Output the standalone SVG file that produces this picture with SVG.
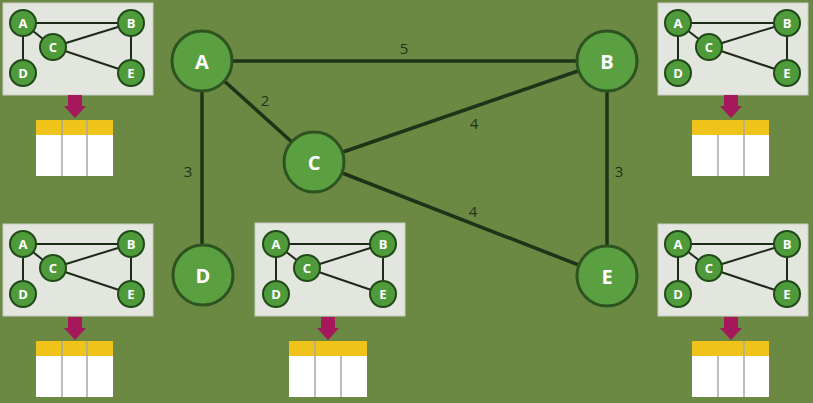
<svg xmlns="http://www.w3.org/2000/svg" width="813" height="403" viewBox="0 0 813 403">
<style>
.edge{stroke:#1e3317;stroke-width:3.5;fill:none}
.node{fill:#5a9f40;stroke:#2c5320;stroke-width:3}
.nlab{font-family:"Open Sans","Liberation Sans",sans-serif;font-weight:bold;font-size:20px;fill:#ffffff;text-anchor:middle;dominant-baseline:central}
.wlab{font-family:"Open Sans","Liberation Sans",sans-serif;font-size:15px;fill:#1e3317;text-anchor:middle;dominant-baseline:central}
.panel{fill:#e3e5df;stroke:#c9ccc3;stroke-width:1}
.medge{stroke:#1e2a18;stroke-width:2;fill:none}
.mnode{fill:#4f9a3a;stroke:#1f4a17;stroke-width:2}
.mlab{font-family:"Open Sans","Liberation Sans",sans-serif;font-weight:bold;font-size:13px;fill:#ffffff;text-anchor:middle;dominant-baseline:central}
.arrow{fill:#a5195c}
.thead{fill:#efc31a}
.tbody{fill:#ffffff}
.tline{stroke:#a8a8a0;stroke-width:1.5}
</style>
<rect x="0" y="0" width="813" height="403" fill="#6b8943"/>

<g id="connectors">
<line class="edge" x1="202" y1="61" x2="607" y2="61"/>
<line class="edge" x1="202" y1="61" x2="314" y2="162"/>
<line class="edge" x1="202" y1="61" x2="202" y2="277"/>
<line class="edge" x1="314" y1="162" x2="607" y2="61"/>
<line class="edge" x1="314" y1="162" x2="607" y2="276"/>
<line class="edge" x1="607" y1="61" x2="607" y2="276"/>
<text class="wlab" x="404" y="48">5</text>
<text class="wlab" x="265" y="100">2</text>
<text class="wlab" x="188" y="171">3</text>
<text class="wlab" x="474" y="123">4</text>
<text class="wlab" x="473" y="211">4</text>
<text class="wlab" x="619" y="171">3</text>
</g>

<g id="node-A"><circle class="node" cx="202" cy="61" r="30"/><text class="nlab" x="202" y="61">A</text></g>
<g id="node-B"><circle class="node" cx="607" cy="61" r="30"/><text class="nlab" x="607" y="61">B</text></g>
<g id="node-C"><circle class="node" cx="314" cy="162" r="30"/><text class="nlab" x="314" y="162">C</text></g>
<g id="node-D"><circle class="node" cx="203" cy="275" r="30"/><text class="nlab" x="203" y="275">D</text></g>
<g id="node-E"><circle class="node" cx="607" cy="276" r="30"/><text class="nlab" x="607" y="276">E</text></g>

<!-- mini panels -->
<g id="panel-top-left" transform="translate(3,3)">
<rect class="panel" x="0" y="0" width="150" height="92"/>
<line class="medge" x1="20" y1="20" x2="128" y2="20"/><line class="medge" x1="20" y1="20" x2="50" y2="44"/><line class="medge" x1="20" y1="20" x2="20" y2="70"/><line class="medge" x1="50" y1="44" x2="128" y2="20"/><line class="medge" x1="50" y1="44" x2="128" y2="70"/><line class="medge" x1="128" y1="20" x2="128" y2="70"/>
<circle class="mnode" cx="20" cy="20" r="13"/><text class="mlab" x="20" y="20">A</text>
<circle class="mnode" cx="128" cy="20" r="13"/><text class="mlab" x="128" y="20">B</text>
<circle class="mnode" cx="50" cy="44" r="13"/><text class="mlab" x="50" y="44">C</text>
<circle class="mnode" cx="20" cy="70" r="13"/><text class="mlab" x="20" y="70">D</text>
<circle class="mnode" cx="128" cy="70" r="13"/><text class="mlab" x="128" y="70">E</text>
</g>
<g id="table-top-left">
<path class="arrow" d="M68,95 H82 V106 H86 L75,118 L64,106 H68 Z"/>
<rect class="tbody" x="36" y="120" width="77" height="56"/>
<rect class="thead" x="36" y="120" width="77" height="15"/>
<line class="tline" x1="62" y1="120" x2="62" y2="176"/><line class="tline" x1="87" y1="120" x2="87" y2="176"/>
</g>

<g id="panel-bottom-left" transform="translate(3,224)">
<rect class="panel" x="0" y="0" width="150" height="92"/>
<line class="medge" x1="20" y1="20" x2="128" y2="20"/><line class="medge" x1="20" y1="20" x2="50" y2="44"/><line class="medge" x1="20" y1="20" x2="20" y2="70"/><line class="medge" x1="50" y1="44" x2="128" y2="20"/><line class="medge" x1="50" y1="44" x2="128" y2="70"/><line class="medge" x1="128" y1="20" x2="128" y2="70"/>
<circle class="mnode" cx="20" cy="20" r="13"/><text class="mlab" x="20" y="20">A</text>
<circle class="mnode" cx="128" cy="20" r="13"/><text class="mlab" x="128" y="20">B</text>
<circle class="mnode" cx="50" cy="44" r="13"/><text class="mlab" x="50" y="44">C</text>
<circle class="mnode" cx="20" cy="70" r="13"/><text class="mlab" x="20" y="70">D</text>
<circle class="mnode" cx="128" cy="70" r="13"/><text class="mlab" x="128" y="70">E</text>
</g>
<g id="table-bottom-left">
<path class="arrow" d="M68,317 H82 V328 H86 L75,340 L64,328 H68 Z"/>
<rect class="tbody" x="36" y="341" width="77" height="56"/>
<rect class="thead" x="36" y="341" width="77" height="15"/>
<line class="tline" x1="62" y1="341" x2="62" y2="397"/><line class="tline" x1="87" y1="341" x2="87" y2="397"/>
</g>

<g id="panel-bottom-middle" transform="translate(255,223)">
<rect class="panel" x="0" y="0" width="150" height="93"/>
<line class="medge" x1="21" y1="21" x2="128" y2="21"/><line class="medge" x1="21" y1="21" x2="52" y2="45"/><line class="medge" x1="21" y1="21" x2="21" y2="71"/><line class="medge" x1="52" y1="45" x2="128" y2="21"/><line class="medge" x1="52" y1="45" x2="128" y2="71"/><line class="medge" x1="128" y1="21" x2="128" y2="71"/>
<circle class="mnode" cx="21" cy="21" r="13"/><text class="mlab" x="21" y="21">A</text>
<circle class="mnode" cx="128" cy="21" r="13"/><text class="mlab" x="128" y="21">B</text>
<circle class="mnode" cx="52" cy="45" r="13"/><text class="mlab" x="52" y="45">C</text>
<circle class="mnode" cx="21" cy="71" r="13"/><text class="mlab" x="21" y="71">D</text>
<circle class="mnode" cx="128" cy="71" r="13"/><text class="mlab" x="128" y="71">E</text>
</g>
<g id="table-bottom-middle">
<path class="arrow" d="M321,317 H335 V328 H339 L328,340 L317,328 H321 Z"/>
<rect class="tbody" x="289" y="341" width="78" height="56"/>
<rect class="thead" x="289" y="341" width="78" height="15"/>
<line class="tline" x1="315" y1="341" x2="315" y2="397"/><line class="tline" x1="341" y1="356" x2="341" y2="397"/>
</g>

<g id="panel-top-right" transform="translate(658,3)">
<rect class="panel" x="0" y="0" width="150" height="92"/>
<line class="medge" x1="20" y1="20" x2="129" y2="20"/><line class="medge" x1="20" y1="20" x2="51" y2="44"/><line class="medge" x1="20" y1="20" x2="20" y2="70"/><line class="medge" x1="51" y1="44" x2="129" y2="20"/><line class="medge" x1="51" y1="44" x2="129" y2="70"/><line class="medge" x1="129" y1="20" x2="129" y2="70"/>
<circle class="mnode" cx="20" cy="20" r="13"/><text class="mlab" x="20" y="20">A</text>
<circle class="mnode" cx="129" cy="20" r="13"/><text class="mlab" x="129" y="20">B</text>
<circle class="mnode" cx="51" cy="44" r="13"/><text class="mlab" x="51" y="44">C</text>
<circle class="mnode" cx="20" cy="70" r="13"/><text class="mlab" x="20" y="70">D</text>
<circle class="mnode" cx="129" cy="70" r="13"/><text class="mlab" x="129" y="70">E</text>
</g>
<g id="table-top-right">
<path class="arrow" d="M724,95 H738 V106 H742 L731,118 L720,106 H724 Z"/>
<rect class="tbody" x="692" y="120" width="77" height="56"/>
<rect class="thead" x="692" y="120" width="77" height="15"/>
<line class="tline" x1="718" y1="135" x2="718" y2="176"/><line class="tline" x1="744" y1="120" x2="744" y2="176"/>
</g>

<g id="panel-bottom-right" transform="translate(658,224)">
<rect class="panel" x="0" y="0" width="150" height="92"/>
<line class="medge" x1="20" y1="20" x2="129" y2="20"/><line class="medge" x1="20" y1="20" x2="51" y2="44"/><line class="medge" x1="20" y1="20" x2="20" y2="70"/><line class="medge" x1="51" y1="44" x2="129" y2="20"/><line class="medge" x1="51" y1="44" x2="129" y2="70"/><line class="medge" x1="129" y1="20" x2="129" y2="70"/>
<circle class="mnode" cx="20" cy="20" r="13"/><text class="mlab" x="20" y="20">A</text>
<circle class="mnode" cx="129" cy="20" r="13"/><text class="mlab" x="129" y="20">B</text>
<circle class="mnode" cx="51" cy="44" r="13"/><text class="mlab" x="51" y="44">C</text>
<circle class="mnode" cx="20" cy="70" r="13"/><text class="mlab" x="20" y="70">D</text>
<circle class="mnode" cx="129" cy="70" r="13"/><text class="mlab" x="129" y="70">E</text>
</g>
<g id="table-bottom-right">
<path class="arrow" d="M724,317 H738 V328 H742 L731,340 L720,328 H724 Z"/>
<rect class="tbody" x="692" y="341" width="77" height="56"/>
<rect class="thead" x="692" y="341" width="77" height="15"/>
<line class="tline" x1="718" y1="356" x2="718" y2="397"/><line class="tline" x1="744" y1="341" x2="744" y2="397"/>
</g>
</svg>
